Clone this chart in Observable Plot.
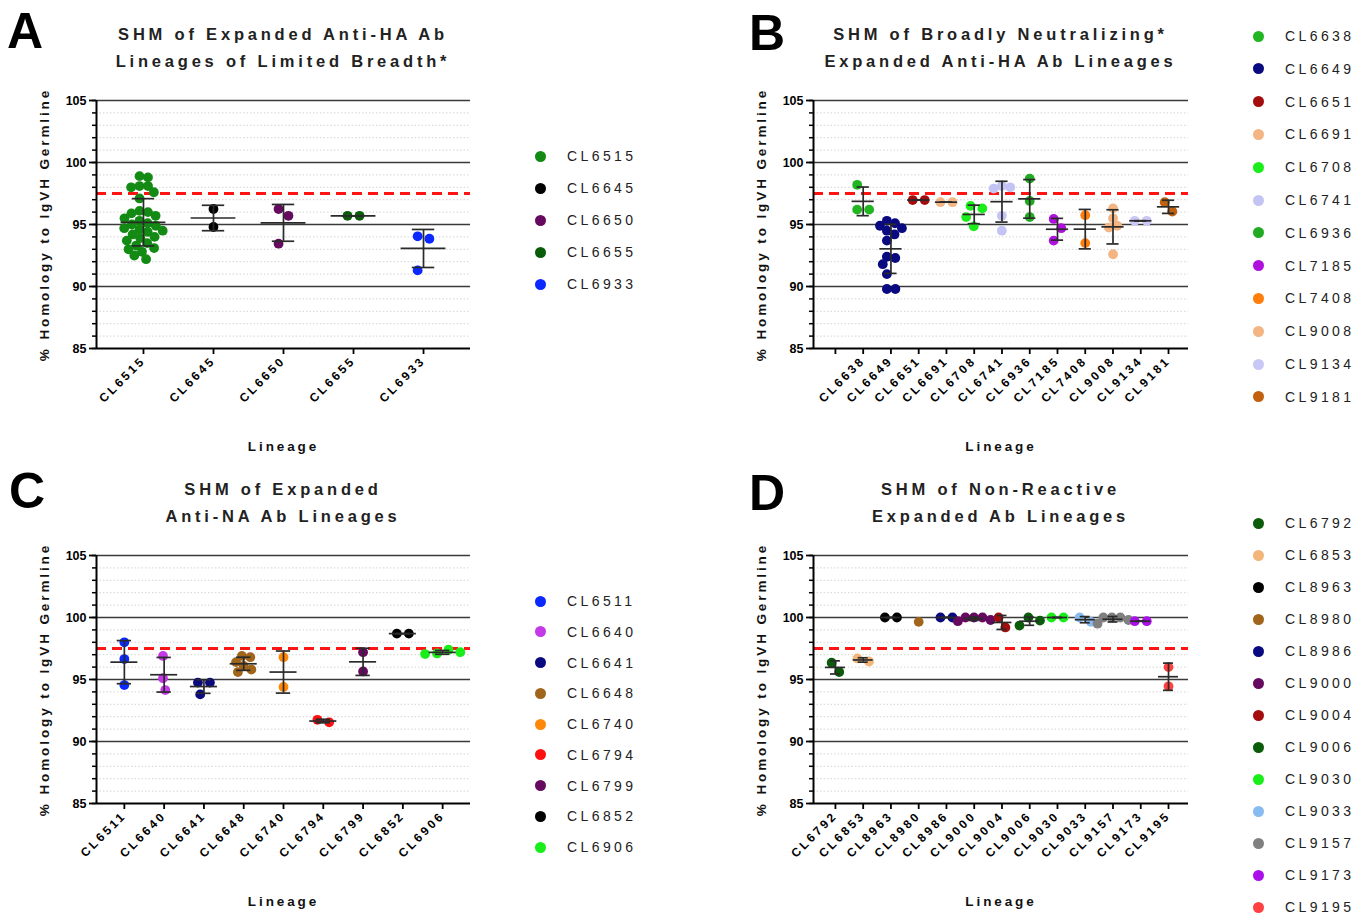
<!DOCTYPE html>
<html><head><meta charset="utf-8">
<script src="https://cdn.jsdelivr.net/npm/d3@7"></script>
<script src="https://cdn.jsdelivr.net/npm/@observablehq/plot@0.6"></script>
<style>
body{margin:0;background:#fff;}
#root{position:relative;width:1368px;height:916px;overflow:hidden;background:#fff;font-family:"Liberation Sans",Arial,sans-serif;}
.letter{position:absolute;font-weight:bold;font-size:50px;line-height:1;color:#000;}
.title{position:absolute;font-weight:bold;font-size:16.5px;letter-spacing:3.8px;line-height:27px;text-align:center;color:#222;transform:translateX(-50%);white-space:nowrap;}
.lg{position:absolute;white-space:nowrap;font-size:14px;letter-spacing:3.4px;color:#222;line-height:16px;}
.lgdot{position:absolute;width:11px;height:11px;border-radius:50%;}
.panel{position:absolute;}
.panel svg{overflow:visible;}
g[aria-label="x-axis tick label"] text{letter-spacing:2.8px;}
</style></head>
<body><div id="root"></div>
<script>
// ---------- data ----------
const majorTicks = [85, 90, 95, 100, 105];
const minorTicks = d3.range(85, 106);
const threshold = [97.5];
const yLabel = "% Homology to IgVH Germline";
const xLabel = "Lineage";

const aLineages = ["CL6515","CL6645","CL6650","CL6655","CL6933"];
const aColors = ["#138a13","#000000","#650a5e","#0a5c0a","#0a28ff"];
const aValues = [
  [98.9,98.8,98.1,98.1,98.0,97.6,97.1,96.1,96.0,95.9,95.7,95.5,95.3,95.1,95.0,94.9,94.7,94.6,94.5,94.4,94.2,94.0,93.9,93.7,93.5,93.3,93.1,93.0,92.8,92.5,92.2],
  [96.25,94.8],
  [96.25,95.7,93.45],
  [95.7,95.7],
  [94.05,93.85,91.3]
];

const bTicks = ["","CL6638","CL6649","CL6651","CL6691","CL6708","CL6741","CL6936","CL7185","CL7408","CL9008","CL9134","CL9181"];
const bLineages = ["CL6638","CL6649","CL6651","CL6691","CL6708","CL6741","CL6936","CL7185","CL7408","CL9008","CL9134","CL9181"];
const bColors = ["#22b522","#0a0a80","#a30d0d","#f2b583","#1aee1a","#c4c4f4","#22aa22","#b010de","#ff7d0a","#f2b583","#c8c8f6","#c1600f"];
const bValues = [
  [98.2,96.2,96.2],
  [95.3,95.1,94.9,94.7,94.5,94.2,93.7,92.4,92.3,91.8,91.0,89.8,89.8],
  [96.97,96.97],
  [96.8,96.8],
  [96.5,96.3,95.6,94.85],
  [98.1,98.0,97.9,95.7,94.5],
  [98.7,96.9,95.6],
  [95.45,94.7,93.7],
  [95.75,93.5],
  [96.3,95.5,94.9,94.75,92.6],
  [95.3,95.3],
  [96.8,96.05]
];

const cLineages = ["CL6511","CL6640","CL6641","CL6648","CL6740","CL6794","CL6799","CL6852","CL6906"];
const cColors = ["#0a28ff","#c43ae6","#0a0a80","#a0651a","#ff870a","#ff1010","#650a5e","#000000","#1aee1a"];
const cValues = [
  [98.0,96.65,94.55],
  [96.9,95.1,94.15],
  [94.75,94.75,93.8],
  [96.9,96.8,96.4,96.1,95.8,95.6],
  [96.8,94.4],
  [91.55,91.75],
  [97.2,95.65],
  [98.7,98.7],
  [97.4,97.2,97.1,97.05]
];

const dLineages = ["CL6792","CL6853","CL8963","CL8980","CL8986","CL9000","CL9004","CL9006","CL9030","CL9033","CL9157","CL9173","CL9195"];
const dColors = ["#0a5c0a","#f2b57a","#000000","#a0651a","#0a0a80","#650a5e","#a30d0d","#0a5c0a","#1aee1a","#88bbf0","#808080","#aa10ea","#ff4040"];
const dValues = [
  [95.6,96.35],
  [96.45,96.7],
  [100,100],
  [99.65],
  [100,100],
  [100,100,100,99.8,99.7],
  [99.2,100],
  [100,99.75,99.35],
  [100,100],
  [99.65,100],
  [100,100,100,99.8,99.5],
  [99.7,99.7],
  [96.0,94.45]
];

// ---------- helpers ----------
const root = document.getElementById("root");
function el(tag, cls, css, text){
  const e = document.createElement(tag); if (cls) e.className = cls;
  Object.assign(e.style, css); if (text != null) e.textContent = text; root.appendChild(e); return e;
}

// beeswarm offsets (px) for one group of values
function swarm(vals, pxPerY, d){
  const order = d3.range(vals.length).sort((a,b)=>vals[b]-vals[a]);
  const placed = [], offs = new Array(vals.length);
  for (const i of order){
    const y = vals[i]*pxPerY;
    const iv = [];
    for (const p of placed){
      const dy = Math.abs(p.y - y);
      if (dy < d){ const w = Math.sqrt(d*d - dy*dy); iv.push([p.x - w, p.x + w]); }
    }
    const cands = [0]; iv.forEach(([a,b]) => cands.push(a,b));
    cands.sort((a,b)=>Math.abs(a)-Math.abs(b) || b-a);
    let x = 0;
    for (const c of cands){ if (iv.every(([a,b]) => c <= a + 1e-6 || c >= b - 1e-6)){ x = c; break; } }
    placed.push({x,y}); offs[i] = x;
  }
  const ext = d3.extent(offs), shift = (ext[0]+ext[1])/2;
  return offs.map(o => o - shift);
}

function panel(o){
  const W = 460, H = 390, mL = 76, mT = 30, mB = 112, mR = W - mL - o.plotW;
  const ticks = o.ticks;
  const n = ticks.length;
  const xDomain = [-o.padL, n - 1 + o.padR];
  const pxPerX = o.plotW / (xDomain[1] - xDomain[0]);
  const pxPerY = (H - mT - mB) / (majorTicks[majorTicks.length-1] - majorTicks[0]);
  const points = [], stats = [];
  o.lineages.forEach((name, k) => {
    const xi = ticks.indexOf(name);
    const vals = o.values[k];
    const offs = swarm(vals, pxPerY, vals.length >= 5 ? 8.5 : 12);
    vals.forEach((v, j) => points.push({name, v, x: xi + offs[j]/pxPerX}));
    if (vals.length > 1){
      const mean = d3.mean(vals), sd = d3.deviation(vals);
      stats.push({name, xi, mean, lo: mean - sd, hi: mean + sd});
    }
  });
  const bar = {stroke: "#2a2a2a", strokeWidth: 1.7};
  const chart = Plot.plot({
    width: W, height: H, marginLeft: mL, marginRight: mR, marginTop: mT, marginBottom: mB,
    x: {domain: xDomain},
    y: {domain: [85, 105]},
    color: {domain: o.lineages, range: o.colors},
    style: {fontFamily: "'Liberation Sans', Arial, sans-serif", fontSize: "12px", fontWeight: "bold", color: "#000", background: "transparent", overflow: "visible"},
    marks: [
      Plot.ruleY(minorTicks.filter(t => !majorTicks.includes(t)), {stroke: "#d4d4d4", strokeDasharray: "1.5,2", strokeWidth: 1}),
      Plot.ruleY(majorTicks.filter(t => t > 85), {stroke: "#3a3a3a", strokeWidth: 1.4}),
      Plot.ruleY(threshold, {stroke: "#ff1414", strokeWidth: 3, strokeDasharray: "10,6"}),
      Plot.dot(points, {x: "x", y: "v", fill: "name", r: 4.9}),
      Plot.ruleX(stats, {x: "xi", y1: "lo", y2: "hi", ...bar}),
      Plot.ruleY(stats, {y: "mean", x1: d => d.xi - o.meanHalf, x2: d => d.xi + o.meanHalf, ...bar}),
      Plot.ruleY(stats, {y: "hi", x1: d => d.xi - o.capHalf, x2: d => d.xi + o.capHalf, ...bar}),
      Plot.ruleY(stats, {y: "lo", x1: d => d.xi - o.capHalf, x2: d => d.xi + o.capHalf, ...bar}),
      Plot.ruleY([85], {stroke: "#000", strokeWidth: 2}),
      Plot.ruleX([xDomain[0]], {y1: 85, y2: 105, stroke: "#000", strokeWidth: 2}),
      Plot.axisY({ticks: minorTicks, tickSize: 4, tickFormat: () => "", label: null, strokeWidth: 1.5}),
      Plot.axisY({ticks: majorTicks, tickSize: 7, tickPadding: 3, strokeWidth: 1.8, label: null, fontSize: 12.5}),
      Plot.axisX({ticks: d3.range(n), tickFormat: i => ticks[i], tickRotate: -45, tickSize: 6, tickPadding: 4, strokeWidth: 1.8, label: null}),
      Plot.text([yLabel], {text: d => d, frameAnchor: "left", textAnchor: "middle", rotate: -90, dx: -52, fontSize: 13.5, fontWeight: "bold", fill: "#111"}),
      Plot.text([xLabel], {text: d => d, frameAnchor: "bottom", textAnchor: "middle", dy: 102, fontSize: 13.5, fontWeight: "bold", fill: "#111"})
    ]
  });
  chart.querySelectorAll('g[aria-label="text"] text').forEach(t => t.style.letterSpacing = "2.9px");
  const wrap = el("div", "panel", {left: o.left + "px", top: o.top + "px"});
  wrap.appendChild(chart);

  // letter + title
  el("div", "letter", {left: o.letterX + "px", top: o.letterY + "px"}, o.letter);
  const t = el("div", "title", {left: (o.left + mL + o.plotW/2) + "px", top: o.titleY + "px"});
  t.innerHTML = o.title.join("<br>");

  // legend
  o.lineages.forEach((name, k) => {
    const y = o.lgY + k * o.lgStep;
    el("div", "lgdot", {left: (o.lgX - 5.5) + "px", top: (y - 5.5) + "px", background: o.colors[k]});
    el("div", "lg", {left: (o.lgX + 27) + "px", top: (y - 8) + "px"}, name);
  });
}

panel({letter: "A", letterX: 7, letterY: 6, title: ["SHM of Expanded Anti-HA Ab", "Lineages of Limited Breadth*"], titleY: 21,
  ticks: aLineages, lineages: aLineages, colors: aColors, values: aValues,
  left: 20, top: 70, plotW: 374, padL: 0.671, padR: 0.671, meanHalf: 0.32, capHalf: 0.16,
  lgX: 540, lgY: 156, lgStep: 32});
panel({letter: "B", letterX: 749, letterY: 8, title: ["SHM of Broadly Neutralizing*", "Expanded Anti-HA Ab Lineages"], titleY: 21,
  ticks: bTicks, lineages: bLineages, colors: bColors, values: bValues,
  left: 737, top: 70, plotW: 375, padL: 0.79, padR: 0.72, meanHalf: 0.40, capHalf: 0.22,
  lgX: 1258, lgY: 36, lgStep: 32.8});
panel({letter: "C", letterX: 9, letterY: 466, title: ["SHM of Expanded", "Anti-NA Ab Lineages"], titleY: 476,
  ticks: cLineages, lineages: cLineages, colors: cColors, values: cValues,
  left: 20, top: 525, plotW: 374, padL: 0.70, padR: 0.70, meanHalf: 0.34, capHalf: 0.18,
  lgX: 540, lgY: 601, lgStep: 30.75});
panel({letter: "D", letterX: 749, letterY: 468, title: ["SHM of Non-Reactive", "Expanded Ab Lineages"], titleY: 476,
  ticks: dLineages, lineages: dLineages, colors: dColors, values: dValues,
  left: 737, top: 525, plotW: 375, padL: 0.79, padR: 0.72, meanHalf: 0.36, capHalf: 0.18,
  lgX: 1258, lgY: 523, lgStep: 32});
</script>
</body></html>
